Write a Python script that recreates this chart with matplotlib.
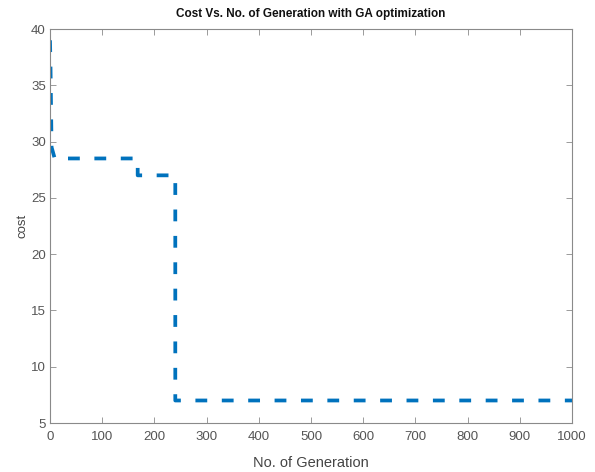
import matplotlib
matplotlib.use("Agg")
import matplotlib.pyplot as plt
from matplotlib import font_manager

# Data (breakpoints of the best-cost curve)
generation = [0, 1, 3, 9, 168, 168, 240, 240, 1000]
cost = [39.0, 36.5, 29.5, 28.5, 28.5, 27.0, 27.0, 7.0, 7.0]

x_ticks = [0, 100, 200, 300, 400, 500, 600, 700, 800, 900, 1000]
y_ticks = [5, 10, 15, 20, 25, 30, 35, 40]

title = "Cost Vs. No. of Generation with GA optimization"
xlabel = "No. of Generation"
ylabel = "cost"

names = {f.name for f in font_manager.fontManager.ttflist}
fam = "Liberation Sans Narrow" if "Liberation Sans Narrow" in names else "Liberation Sans"
plt.rcParams["font.family"] = [fam, "DejaVu Sans"]
plt.rcParams["lines.scale_dashes"] = False

fig = plt.figure(figsize=(5.95, 4.72), dpi=100)
ax = fig.add_axes([50/595, 1-423/472, (572-50)/595, (423-29)/472])

ax.plot(generation, cost, color="#0072BD", linewidth=2.7, linestyle=(0, (8.5, 10.5)))

ax.set_xlim(0, 1000)
ax.set_ylim(5, 40)
ax.set_xticks(x_ticks)
ax.set_yticks(y_ticks)

gray = "#8a8a8a"
for s in ax.spines.values():
    s.set_color(gray)
    s.set_linewidth(0.8)
ax.tick_params(direction="in", length=4, width=0.6, colors=gray,
               labelcolor="#555555", labelsize=9.5, top=True, right=True, pad=3)
ax.tick_params(axis="x", pad=6)

ax.set_title(title, fontsize=8.5, fontweight="bold", color="#111111", pad=9)
ax.set_xlabel(xlabel, fontsize=10.5, color="#444444", labelpad=9)
ax.set_ylabel(ylabel, fontsize=9.5, color="#444444", labelpad=2)

fig.savefig("out.png", dpi=100)
